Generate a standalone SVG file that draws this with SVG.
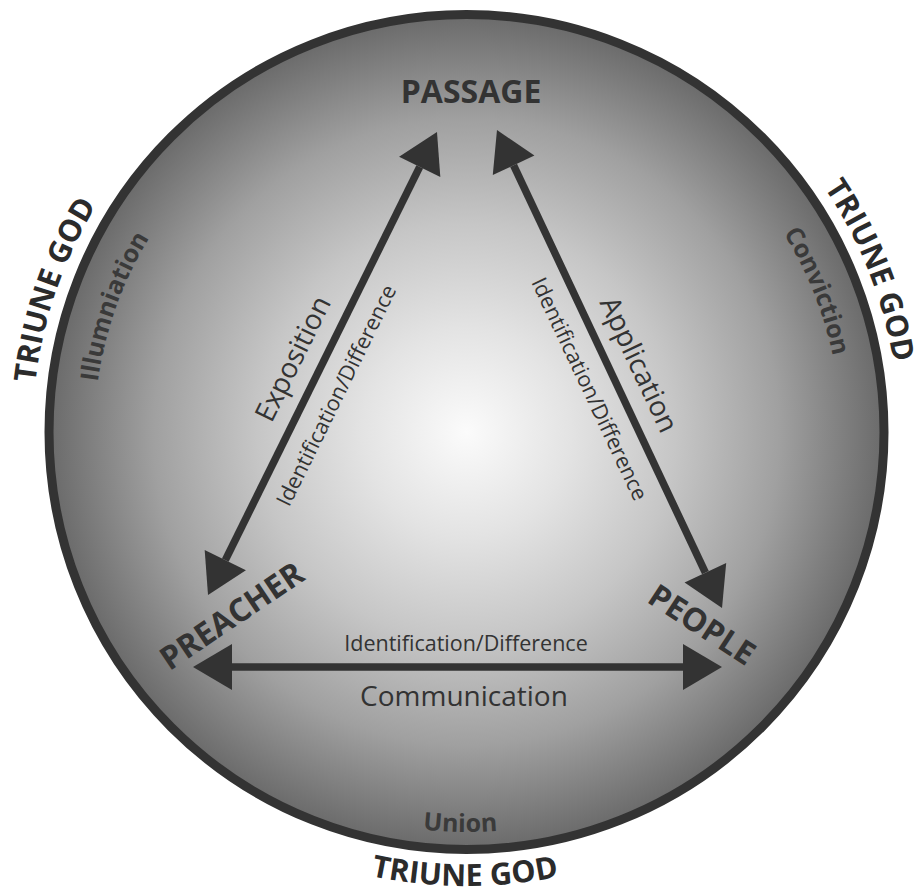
<svg xmlns="http://www.w3.org/2000/svg" width="921" height="894" viewBox="0 0 921 894">
  <defs>
    <radialGradient id="bg" cx="466.5" cy="432" r="417.5" gradientUnits="userSpaceOnUse">
      <stop offset="0" stop-color="#fbfbfb"/>
      <stop offset="0.25" stop-color="#e3e3e3"/>
      <stop offset="0.5" stop-color="#c6c6c6"/>
      <stop offset="0.75" stop-color="#a0a0a0"/>
      <stop offset="1" stop-color="#6a6a6a"/>
    </radialGradient>
    <marker id="head" markerUnits="userSpaceOnUse" markerWidth="42" markerHeight="48" viewBox="0 -24 40 48" refX="0" refY="0" orient="auto-start-reverse" overflow="visible">
      <path d="M0,-23 L39,0 L0,23 Z" fill="#333"/>
    </marker>
    <path id="arcGodL" d="M40.5,514.8 A434,434 0 0 1 181.8,104.5"/>
    <path id="arcGodR" d="M735.5,92.0 A432,432 0 0 1 894.2,492.9"/>
    <path id="arcGodB" d="M238.1,824.4 A454,454 0 0 0 692.1,826.0"/>
    <path id="arcIllum" d="M100.6,499.1 A372,372 0 0 1 225.4,148.7"/>
    <path id="arcConv" d="M697.3,137.7 A374,374 0 0 1 836.8,484.7"/>
    <path id="arcUnion" d="M261.1,775.2 A400,400 0 0 0 661.0,781.5"/>
  </defs>
  <style>
    .node { font-family: "Open Sans", "Liberation Sans", sans-serif; font-weight: bold; fill: #333; }
    .god { font-family: "Open Sans", "Liberation Sans", sans-serif; font-weight: bold; font-size: 30.5px; fill: #2b2b2b; }
    .inner { font-family: "Open Sans", "Liberation Sans", sans-serif; font-weight: bold; font-size: 25px; fill: #3a3a3a; }
    .lbl { font-family: "Open Sans", "Liberation Sans", sans-serif; fill: #333; }
    .conn { stroke: #333; stroke-width: 7.5; fill: none; marker-start: url(#head); marker-end: url(#head); }
  </style>

  <g id="circle">
    <circle cx="466.5" cy="432" r="417.5" fill="url(#bg)" stroke="#333" stroke-width="9"/>
  </g>

  <g id="triune-god">
    <text class="god" text-anchor="middle"><textPath href="#arcGodL" startOffset="50%">TRIUNE GOD</textPath></text>
    <text class="god" text-anchor="middle"><textPath href="#arcGodR" startOffset="50%">TRIUNE GOD</textPath></text>
    <text class="god" text-anchor="middle"><textPath href="#arcGodB" startOffset="50%">TRIUNE GOD</textPath></text>
  </g>

  <g id="spirit-works">
    <text class="inner" text-anchor="middle"><textPath href="#arcIllum" startOffset="50%">Illumniation</textPath></text>
    <text class="inner" text-anchor="middle"><textPath href="#arcConv" startOffset="50%">Conviction</textPath></text>
    <text class="inner" text-anchor="middle" font-size="26"><textPath href="#arcUnion" startOffset="50%">Union</textPath></text>
  </g>

  <g id="connectors">
    <line class="conn" x1="419.7" y1="166.9" x2="225.3" y2="560.1"/>
    <line class="conn" x1="513.6" y1="165.3" x2="705.4" y2="572.7"/>
    <line class="conn" x1="232" y1="667" x2="683" y2="667"/>
  </g>

  <g id="connector-labels">
    <text class="lbl" font-size="28" text-anchor="middle" transform="translate(301.6,363) rotate(-63.7)">Exposition</text>
    <text class="lbl" font-size="21.5" text-anchor="middle" transform="translate(343,398.7) rotate(-63.7)">Identification/Difference</text>
    <text class="lbl" font-size="28" text-anchor="middle" transform="translate(630.3,368.6) rotate(64.8)">Application</text>
    <text class="lbl" font-size="21.5" text-anchor="middle" transform="translate(582.8,392.1) rotate(64.8)">Identification/Difference</text>
    <text class="lbl" font-size="21.5" text-anchor="middle" x="466" y="651">Identification/Difference</text>
    <text class="lbl" font-size="28" text-anchor="middle" x="464" y="706">Communication</text>
  </g>

  <g id="node-passage">
    <text class="node" font-size="32" text-anchor="middle" x="471" y="103">PASSAGE</text>
  </g>
  <g id="node-preacher">
    <text class="node" font-size="32" text-anchor="middle" transform="translate(238,625) rotate(-34)">PREACHER</text>
  </g>
  <g id="node-people">
    <text class="node" font-size="32" text-anchor="middle" transform="translate(696,634) rotate(33)">PEOPLE</text>
  </g>
</svg>
